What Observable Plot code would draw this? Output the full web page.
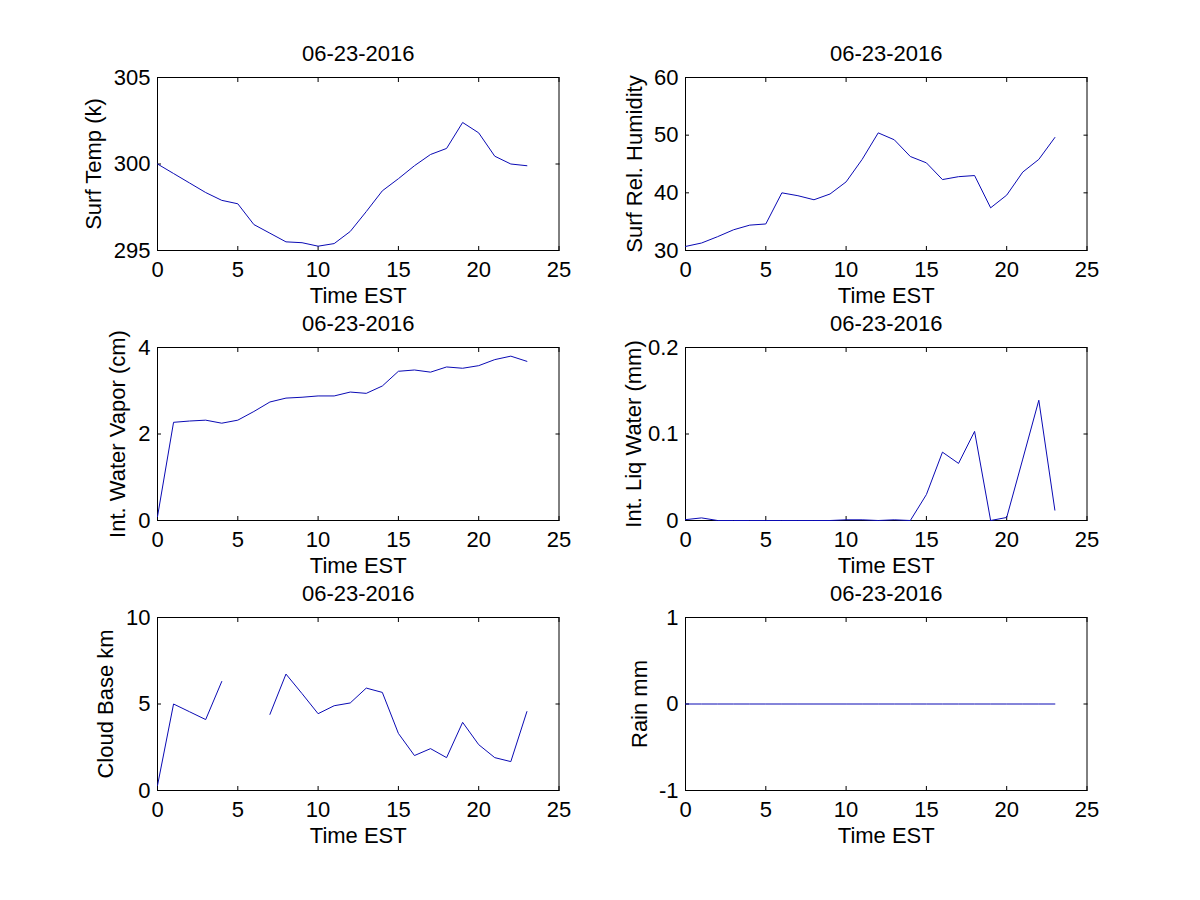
<!DOCTYPE html>
<html><head><meta charset="utf-8">
<script src="https://cdn.jsdelivr.net/npm/d3@7"></script>
<script src="https://cdn.jsdelivr.net/npm/@observablehq/plot@0.6"></script>
<style>
body{margin:0;background:#fff;}
#fig{position:relative;width:1200px;height:900px;background:#fff;overflow:hidden}
.panel{position:absolute}
</style></head><body><div id="fig"></div>
<script>
const hours = [0,1,2,3,4,5,6,7,8,9,10,11,12,13,14,15,16,17,18,19,20,21,22,23];
const dateTitle = "06-23-2016";
const xLabel = "Time EST";
const xTicks = [0,5,10,15,20,25];

const surfTemp = [300.0,299.45,298.9,298.35,297.9,297.7,296.5,296.0,295.5,295.45,295.25,295.4,296.1,297.25,298.45,299.15,299.9,300.55,300.9,302.4,301.8,300.45,300.0,299.9];
const surfRH = [30.7,31.3,32.4,33.6,34.4,34.6,40.0,39.5,38.8,39.8,41.9,45.8,50.4,49.2,46.3,45.2,42.3,42.8,43.0,37.4,39.6,43.6,45.8,49.6];
const intVapor = [0.09,2.27,2.30,2.32,2.25,2.32,2.52,2.74,2.83,2.85,2.88,2.88,2.97,2.94,3.11,3.45,3.48,3.43,3.55,3.52,3.58,3.72,3.80,3.68];
const intLiq = [0.001,0.003,0,0,0,0,0,0,0,0,0.0008,0.0008,0,0.0008,0,0.030,0.079,0.066,0.103,0,0.0035,0.071,0.139,0.012];
const cloudBase = [0.29,5.0,4.55,4.1,6.3,null,null,4.4,6.73,5.6,4.44,4.9,5.06,5.92,5.67,3.3,2.02,2.42,1.9,3.94,2.65,1.9,1.67,4.56];
const rain = [0,0,0,0,0,0,0,0,0,0,0,0,0,0,0,0,0,0,0,0,0,0,0,0];

const yLabels = ["Surf Temp (k)","Surf Rel. Humidity","Int. Water Vapor (cm)","Int. Liq Water (mm)","Cloud Base km","Rain mm"];
const yDomains = [[295,305],[30,60],[0,4],[0,0.2],[0,10],[-1,1]];
const yTicks = [[295,300,305],[30,40,50,60],[0,2,4],[0,0.1,0.2],[0,5,10],[-1,0,1]];
const series = [surfTemp, surfRH, intVapor, intLiq, cloudBase, rain];

// layout (frame positions in page pixels)
const colLeft = [156.5, 684.5];
const rowTop = [77, 347, 617];
const frameW = 401.5, frameH = 173;
const ylabOffset = [64, 51, 40, 52, 52, 46];
const ml = 90, mr = 20, mt = 40, mb = 60;

const fig = document.getElementById("fig");
series.forEach((vals, i) => {
  const col = i % 2, row = Math.floor(i / 2);
  const data = hours.map((h, j) => ({h, v: vals[j]}));
  const fmt = d => String(d);
  const chart = Plot.plot({
    width: ml + frameW + mr,
    height: mt + frameH + mb,
    marginLeft: ml, marginRight: mr, marginTop: mt, marginBottom: mb,
    style: {fontFamily: "'Liberation Sans', Arial, sans-serif", fontSize: "22px", color: "black", background: "transparent", overflow: "visible"},
    x: {domain: [0, 25], label: null},
    y: {domain: yDomains[i], label: null},
    marks: [
      Plot.frame({stroke: "black", strokeWidth: 1}),
      Plot.axisX(xTicks, {anchor: "bottom", tickSize: 4, dy: -4, fill: "none", label: null}),
      Plot.axisX(xTicks, {anchor: "top", tickSize: 4, dy: 4, fill: "none", label: null}),
      Plot.axisY(yTicks[i], {anchor: "left", tickSize: 4, dx: 4, fill: "none", label: null}),
      Plot.axisY(yTicks[i], {anchor: "right", tickSize: 4, dx: -4, fill: "none", label: null}),
      Plot.axisX(xTicks, {anchor: "bottom", tickSize: 0, tickPadding: 11, tickFormat: fmt, label: null}),
      Plot.axisY(yTicks[i], {anchor: "left", tickSize: 0, tickPadding: 7, tickFormat: fmt, label: null}),
      Plot.line(data, {x: "h", y: "v", stroke: "#0a0ab4", strokeWidth: 1}),
      Plot.text([dateTitle], {text: d => d, frameAnchor: "top", dy: -24, textAnchor: "middle", lineAnchor: "middle"}),
      Plot.text([xLabel], {text: d => d, frameAnchor: "bottom", dy: 45, textAnchor: "middle", lineAnchor: "middle"}),
      Plot.text([yLabels[i]], {text: d => d, frameAnchor: "left", dx: -ylabOffset[i], rotate: -90, textAnchor: "middle", lineAnchor: "middle"})
    ]
  });
  const div = document.createElement("div");
  div.className = "panel";
  div.style.left = (colLeft[col] - ml) + "px";
  div.style.top = (rowTop[row] - mt) + "px";
  div.appendChild(chart);
  fig.appendChild(div);
});
</script></body></html>
